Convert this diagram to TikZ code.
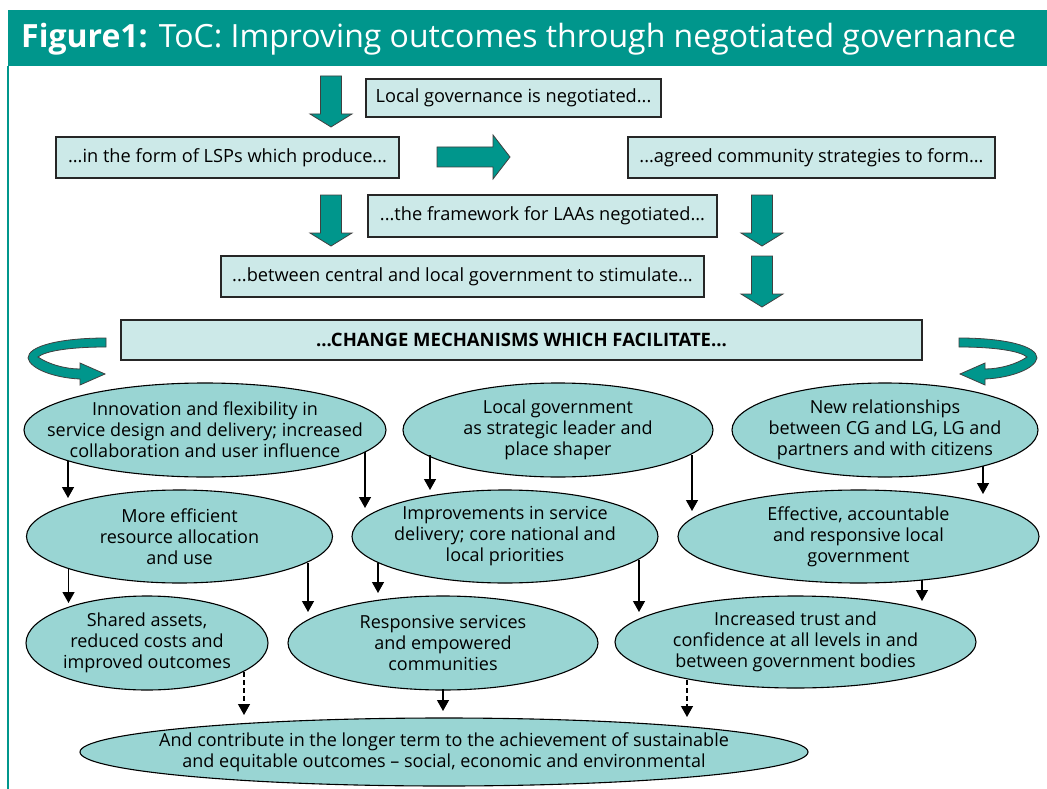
\documentclass[tikz,border=0pt]{standalone}
\usepackage{fontspec}
\setmainfont{Open Sans}
\usetikzlibrary{shapes.geometric,arrows.meta}
\definecolor{teal1}{RGB}{0,150,140}
\definecolor{boxfill}{RGB}{204,233,232}
\definecolor{ellfill}{RGB}{153,213,211}
\newcommand\mycurvpath{(106,338) -- (106,347) .. controls (70,347) and (45,351) .. (38,357)
      .. controls (48,364) and (65,369) .. (80,369) -- (80,363) -- (105,374) -- (80,385) -- (80,379)
      .. controls (55,378) and (30,369) .. (28,358) .. controls (28,346) and (60,338) .. (106,338) -- cycle}
\tikzset{
  box/.style={draw=black!85, line width=1.3pt, fill=boxfill, inner sep=0pt, font=\fontsize{18.2}{22}\selectfont},
  ell/.style={ellipse, draw=black, line width=1.1pt, fill=ellfill, inner sep=0pt},
  etxt/.style={align=center, inner sep=0pt, font=\fontsize{18}{21}\selectfont},
  blk/.style={fill=teal1, draw=black!75, line width=0.8pt, line join=miter},
  arr/.style={line width=1.3pt, -{Triangle[width=12pt,length=11pt]}},
  darr/.style={arr, dash pattern=on 5pt off 3pt},
  downblk/.pic={\draw[blk] (-10.5,0) -- (10.5,0) -- (10.5,38) -- (21,38) -- (0,51) -- (-21,38) -- (-10.5,38) -- cycle;}
}
\begin{document}
\begin{tikzpicture}[x=1pt,y=-1pt]
\useasboundingbox (0,0) rectangle (1047,789);
\fill[white] (0,0) rectangle (1047,789);
% title bar
\fill[teal1] (8,10) rectangle (1047,66);
\draw[teal1, line width=2pt] (8,66) -- (8,789);
\node[anchor=west, text=white, inner sep=0pt, font=\fontsize{32}{36}\selectfont] (title) at (21,39)
  {\textbf{Figure1:} ToC: Improving outcomes through negotiated governance};
% boxes
\node[box, minimum width=295, minimum height=38] (b1) at (513.5,98) {Local governance is negotiated...};
\node[box, minimum width=343, minimum height=41] (b2) at (227.5,157.5) {...in the form of LSPs which produce...};
\node[box, minimum width=367, minimum height=41] (b3) at (811.5,157.5) {...agreed community strategies to form...};
\node[box, minimum width=349, minimum height=42] (b4) at (542.5,216) {...the framework for LAAs negotiated...};
\node[box, minimum width=483, minimum height=41] (b5) at (462.5,276.5) {...between central and local government to stimulate...};
\node[box, minimum width=801, minimum height=40, font=\fontsize{18.5}{22}\selectfont\bfseries] (b6) at (521.5,340) {...CHANGE MECHANISMS WHICH FACILITATE...};
% block arrows
\pic at (331,76) {downblk};
\pic at (331,195) {downblk};
\pic at (762,195) {downblk};
\pic at (762,256) {downblk};
\draw[blk] (437,147) -- (493,147) -- (493,135) -- (510,157) -- (493,179) -- (493,167) -- (437,167) -- cycle;
\draw[blk] \mycurvpath;
\begin{scope}[xshift=1065pt, xscale=-1]
\draw[blk] \mycurvpath;
\end{scope}
% ellipses
\node[ell, minimum width=362, minimum height=94] (e1) at (205,430) {};
\node[etxt] (t1) at (e1.center) {Innovation and flexibility in\\service design and delivery; increased\\collaboration and user influence};
\node[ell, minimum width=310, minimum height=94] (e2) at (558,430) {};
\node[etxt] (t2) at (e2.center) {Local government\\as strategic leader and\\place shaper};
\node[ell, minimum width=306, minimum height=94] (e3) at (885,430) {};
\node[etxt] (t3) at (e3.center) {New relationships\\between CG and LG, LG and\\partners and with citizens};
\node[ell, minimum width=306, minimum height=93] (e4) at (179.5,536.5) {};
\node[etxt] (t4) at (e4.center) {More efficient\\resource allocation\\and use};
\node[ell, minimum width=306, minimum height=93] (e5) at (505,536.5) {};
\node[etxt] (t5) at (e5.center) {Improvements in service\\delivery; core national and\\local priorities};
\node[ell, minimum width=361, minimum height=93] (e6) at (858.5,536.5) {};
\node[etxt] (t6) at (e6.center) {Effective, accountable\\and responsive local\\government};
\node[ell, minimum width=242, minimum height=94] (e7) at (147,643) {};
\node[etxt] (t7) at (e7.center) {Shared assets,\\reduced costs and\\improved outcomes};
\node[ell, minimum width=310, minimum height=94] (e8) at (443,643) {};
\node[etxt] (t8) at (e8.center) {Responsive services\\and empowered\\communities};
\node[ell, minimum width=361, minimum height=92] (e9) at (795.5,642) {};
\node[etxt] (t9) at (e9.center) {Increased trust and\\confidence at all levels in and\\between government bodies};
\node[ell, minimum width=728, minimum height=68] (e10) at (444,752) {};
\node[etxt] (t10) at (e10.center) {And contribute in the longer term to the achievement of sustainable\\and equitable outcomes -- social, economic and environmental};
% thin arrows
\draw[arr] (e1.center) ++(-137,30.5) -- ++(0,37.5);
\draw[arr] (e1.center) ++(160,22) -- ++(0,56);
\draw[arr] (e2.center) ++(-128,25) -- ++(0,35);
\draw[arr] (e2.center) ++(134,25) -- ++(0,56);
\draw[arr] (e3.center) ++(98,36) -- ++(0,28);
\draw[arr] (e4.center) ++(-111,31.5) -- ++(0,35);
\draw[arr] (e4.center) ++(128.5,26.5) -- ++(0,49);
\draw[arr] (e5.center) ++(-127,26.5) -- ++(0,30);
\draw[arr] (e5.center) ++(134,23.5) -- ++(0,52);
\draw[arr] (e6.center) ++(63.5,43.5) -- ++(0,21);
\draw[darr] (e7.center) ++(97,29) -- ++(0,43);
\draw[arr] (e8.center) ++(0,46) -- ++(0,22);
\draw[darr] (e9.center) ++(-108.5,38) -- ++(0,37);
\end{tikzpicture}
\end{document}
